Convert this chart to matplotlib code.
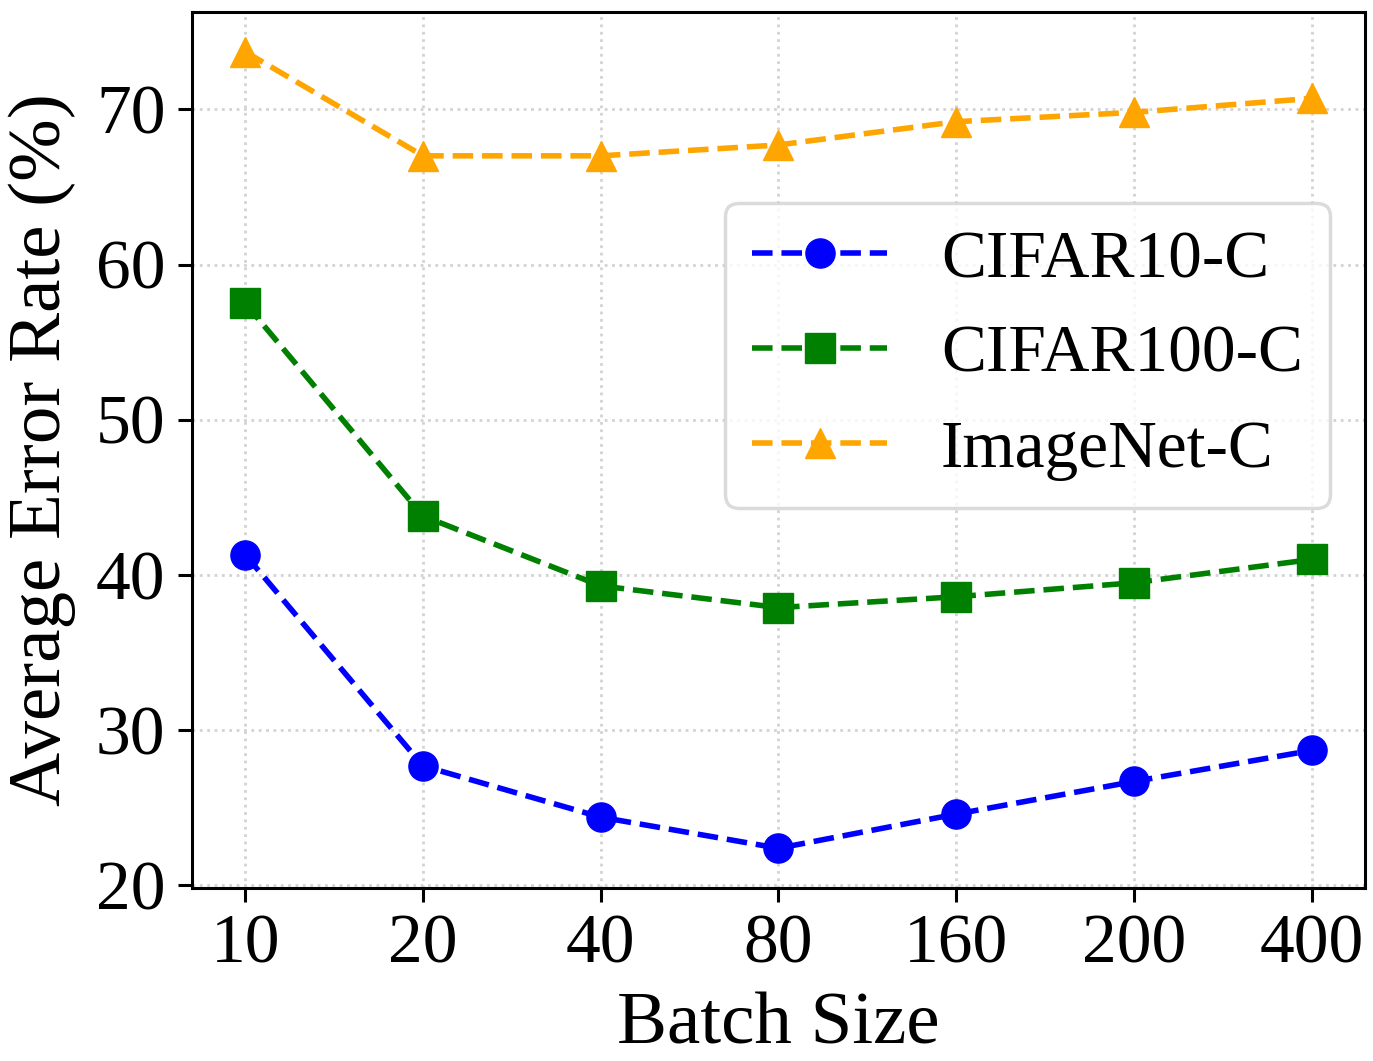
import matplotlib
matplotlib.use("Agg")
import matplotlib.pyplot as plt

batch_sizes = ["10", "20", "40", "80", "160", "200", "400"]
cifar10 = [41.3, 27.7, 24.4, 22.4, 24.6, 26.7, 28.7]
cifar100 = [57.5, 43.8, 39.3, 37.9, 38.6, 39.5, 41.0]
imagenet = [73.7, 67.0, 67.0, 67.7, 69.2, 69.8, 70.7]

plt.rcParams["font.family"] = ["Liberation Serif", "DejaVu Serif"]

fig, ax = plt.subplots(figsize=(13.73, 10.61), dpi=100)
fig.subplots_adjust(left=0.1398, right=0.9942, top=0.9887, bottom=0.163)

x = range(len(batch_sizes))
ax.plot(x, cifar10, "--o", color="blue", lw=4, ms=21, label="CIFAR10-C")
ax.plot(x, cifar100, "--s", color="green", lw=4, ms=21, label="CIFAR100-C")
ax.plot(x, imagenet, "--^", color="orange", lw=4, ms=21, label="ImageNet-C")

ax.set_xticks(list(x))
ax.set_xticklabels(batch_sizes)
ax.set_xlim(-0.3, 6.3)
ax.set_yticks([20, 30, 40, 50, 60, 70])

ax.set_xlabel("Batch Size", fontsize=54, labelpad=10)
ax.set_ylabel("Average Error Rate (%)", fontsize=54, labelpad=14)
ax.tick_params(labelsize=50, length=10, width=2.2, pad=9)
for s in ax.spines.values():
    s.set_linewidth(2.2)

ax.grid(True, ls=":", color="lightgray", lw=2)

leg = ax.legend(fontsize=48.5, loc="upper right", bbox_to_anchor=(0.970, 0.782),
                borderaxespad=0, borderpad=0.4, labelspacing=0.5,
                edgecolor="lightgray", framealpha=0.8)
leg.get_frame().set_linewidth(2.5)

plt.savefig("out.png")
